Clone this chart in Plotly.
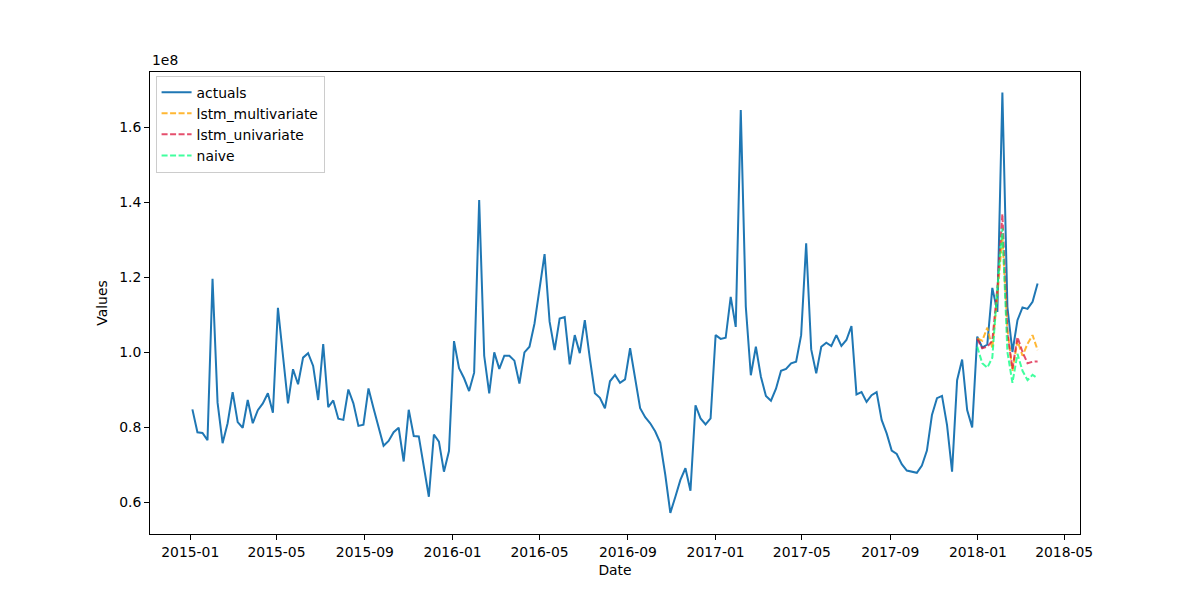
import pandas as pd
import plotly.graph_objects as go

# weekly values, in units of 1e8
dates = pd.date_range("2015-01-04", periods=169, freq="W-SUN")

actuals = [
    0.847, 0.786, 0.784, 0.765, 1.195, 0.865, 0.757, 0.810, 0.893, 0.813,
    0.798, 0.872, 0.810, 0.845, 0.863, 0.890, 0.838, 1.118, 0.990, 0.863,
    0.954, 0.914, 0.985, 0.997, 0.963, 0.872, 1.021, 0.853, 0.871, 0.822,
    0.819, 0.900, 0.863, 0.803, 0.806, 0.903, 0.850, 0.801, 0.750, 0.763,
    0.786, 0.798, 0.708, 0.846, 0.776, 0.775, 0.694, 0.614, 0.780, 0.761,
    0.681, 0.736, 1.029, 0.957, 0.930, 0.896, 0.945, 1.405, 0.990, 0.890,
    0.999, 0.955, 0.990, 0.990, 0.977, 0.916, 0.999, 1.014, 1.076, 1.169,
    1.261, 1.081, 1.005, 1.089, 1.093, 0.967, 1.045, 0.997, 1.085, 0.983,
    0.890, 0.878, 0.850, 0.922, 0.939, 0.918, 0.927, 1.010, 0.930, 0.850,
    0.826, 0.810, 0.788, 0.758, 0.672, 0.571, 0.614, 0.659, 0.690, 0.630,
    0.858, 0.823, 0.807, 0.823, 1.045, 1.035, 1.038, 1.147, 1.067, 1.645,
    1.121, 0.938, 1.014, 0.934, 0.883, 0.870, 0.902, 0.950, 0.955, 0.970,
    0.974, 1.045, 1.290, 1.007, 0.943, 1.014, 1.025, 1.016, 1.045, 1.016,
    1.032, 1.069, 0.887, 0.893, 0.867, 0.885, 0.893, 0.819, 0.783, 0.737,
    0.728, 0.701, 0.684, 0.681, 0.678, 0.697, 0.737, 0.832, 0.877, 0.883,
    0.805, 0.681, 0.925, 0.980, 0.845, 0.799, 1.041, 1.012, 1.020, 1.171,
    1.107, 1.692, 1.120, 1.000, 1.085, 1.119, 1.115, 1.134, 1.183,
]

fc_dates = dates[156:]
lstm_multivariate = [1.036, 1.030, 1.065, 1.010, 1.150, 1.310, 1.060, 0.950, 1.030, 0.990, 1.022, 1.045, 1.005]
lstm_univariate = [1.035, 1.010, 1.014, 1.030, 1.170, 1.368, 1.050, 0.955, 1.040, 1.000, 0.970, 0.974, 0.975]
naive = [1.014, 0.970, 0.958, 0.985, 1.170, 1.330, 1.000, 0.918, 0.995, 0.950, 0.925, 0.939, 0.930]

y_ticks = [0.6, 0.8, 1.0, 1.2, 1.4, 1.6]
x_ticks = ["2015-01-01", "2015-05-01", "2015-09-01", "2016-01-01", "2016-05-01", "2016-09-01",
           "2017-01-01", "2017-05-01", "2017-09-01", "2018-01-01", "2018-05-01"]

scale = 1e8
dash = "6px,2.5px"

fig = go.Figure()
fig.add_trace(go.Scatter(x=dates, y=[v * scale for v in actuals], mode="lines", name="actuals",
                         line=dict(color="#1f77b4", width=2)))
fig.add_trace(go.Scatter(x=fc_dates, y=[v * scale for v in lstm_multivariate], mode="lines",
                         name="lstm_multivariate",
                         line=dict(color="rgba(255,165,0,0.8)", width=2, dash=dash)))
fig.add_trace(go.Scatter(x=fc_dates, y=[v * scale for v in lstm_univariate], mode="lines",
                         name="lstm_univariate",
                         line=dict(color="rgba(220,20,60,0.75)", width=2, dash=dash)))
fig.add_trace(go.Scatter(x=fc_dates, y=[v * scale for v in naive], mode="lines", name="naive",
                         line=dict(color="rgba(0,255,127,0.75)", width=2, dash=dash)))

font = dict(family="DejaVu Sans", size=13.9, color="black")

# page body has an 8px margin, so the margins are shifted to put the axes where the reference has them
fig.update_layout(
    width=1200, height=600,
    margin=dict(l=142, r=128, t=64, b=74),
    plot_bgcolor="white", paper_bgcolor="white",
    font=font,
    showlegend=True,
    legend=dict(x=0.006, y=0.992, xanchor="left", yanchor="top",
                bgcolor="rgba(255,255,255,0.8)", bordercolor="#cccccc", borderwidth=1,
                font=font, tracegroupgap=0),
    annotations=[dict(text="1e8", x=0, y=1, xref="paper", yref="paper",
                      xanchor="left", yanchor="bottom", showarrow=False, font=font, yshift=2)],
)

fig.update_xaxes(
    range=["2014-11-06", "2018-05-23"],
    tickvals=x_ticks, tickformat="%Y-%m",
    showgrid=False, zeroline=False,
    showline=True, linecolor="black", linewidth=1, mirror=True,
    ticks="outside", ticklen=5, tickcolor="black",
    title=dict(text="Date", font=font, standoff=6),
)
fig.update_yaxes(
    range=[0.5147 * scale, 1.7467 * scale],
    tickvals=[t * scale for t in y_ticks], ticktext=[f"{t:.1f}" for t in y_ticks],
    showgrid=False, zeroline=False,
    showline=True, linecolor="black", linewidth=1, mirror=True,
    ticks="outside", ticklen=5, tickcolor="black",
    title=dict(text="Values", font=font, standoff=8),
)

fig.write_html("out.html")
